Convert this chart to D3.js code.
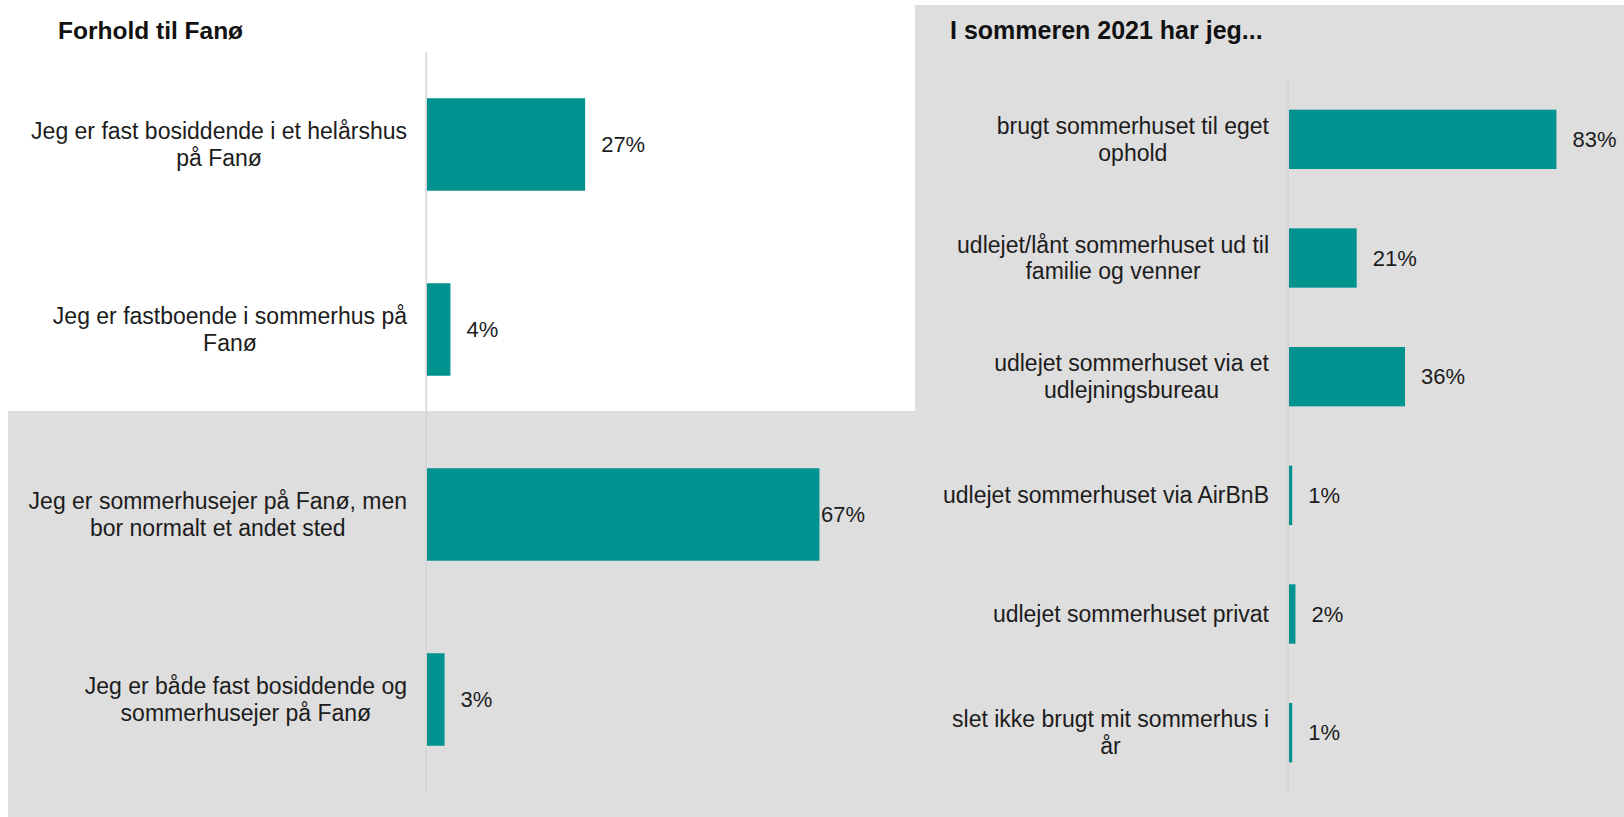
<!DOCTYPE html>
<html>
<head>
<meta charset="utf-8">
<script src="https://cdn.jsdelivr.net/npm/d3@7/dist/d3.min.js"></script>
<style>
  html, body { margin: 0; padding: 0; background: #ffffff; }
  svg { display: block; }
  text { font-family: "Liberation Sans", Arial, sans-serif; fill: #1c1c1c; }
</style>
</head>
<body>
<svg id="chart" width="1624" height="817"></svg>
<script>
// Forhold til Fanø
const leftTitle = "Forhold til Fanø";
const leftCategories = [
  "Jeg er fast bosiddende i et helårshus\npå Fanø",
  "Jeg er fastboende i sommerhus på\nFanø",
  "Jeg er sommerhusejer på Fanø, men\nbor normalt et andet sted",
  "Jeg er både fast bosiddende og\nsommerhusejer på Fanø"
];
const leftValues = [0.27, 0.04, 0.67, 0.03];

// I sommeren 2021 har jeg...
const rightTitle = "I sommeren 2021 har jeg...";
const rightCategories = [
  "brugt sommerhuset til eget\nophold",
  "udlejet/lånt sommerhuset ud til\nfamilie og venner",
  "udlejet sommerhuset via et\nudlejningsbureau",
  "udlejet sommerhuset via AirBnB",
  "udlejet sommerhuset privat",
  "slet ikke brugt mit sommerhus i\når"
];
const rightValues = [0.83, 0.21, 0.36, 0.01, 0.02, 0.01];

const BAR = "#00938f";
const PANEL = "#dedede";
const AXIS = "#d4d4d4";
const pct = d3.format(".0%");

const svg = d3.select("#chart");

// background panels
svg.append("rect").attr("x", 8).attr("y", 411).attr("width", 907).attr("height", 406).attr("fill", PANEL);
svg.append("rect").attr("x", 915).attr("y", 5).attr("width", 709).attr("height", 812).attr("fill", PANEL);

function barChart(opt) {
  const g = svg.append("g");
  const x = d3.scaleLinear().domain([0, opt.xMax]).range([opt.x0, opt.x1]);
  const y = d3.scaleBand().domain(opt.categories).range([opt.y0, opt.y1])
    .paddingInner(0.5).paddingOuter(0.25);

  // title
  g.append("text")
    .attr("x", opt.titleX).attr("y", 39)
    .style("font-weight", "bold").style("font-size", opt.titleSize).style("fill", "#111")
    .text(opt.title);

  // vertical category axis
  const axis = g.append("g")
    .attr("transform", `translate(${x(0) - 0.75},0)`)
    .call(d3.axisLeft(y).tickSize(0).tickFormat(""));
  axis.select(".domain").attr("stroke", AXIS).attr("stroke-width", 1.5)
    .attr("d", `M0,${opt.y0}V${opt.y1}`);

  const data = opt.categories.map((c, i) => ({ c, v: opt.values[i] }));

  g.selectAll("rect.bar").data(data).join("rect")
    .attr("class", "bar")
    .attr("x", x(0))
    .attr("y", d => y(d.c))
    .attr("width", d => x(d.v) - x(0))
    .attr("height", y.bandwidth())
    .attr("fill", BAR);

  // wrapped category labels: block right-aligned to the axis, lines centred in the block
  const lineH = 26.5;
  g.selectAll("g.cat").data(data).join("g").attr("class", "cat").each(function (d) {
    const lines = d.c.split("\n");
    const t = d3.select(this).append("text")
      .style("font-size", "23px").attr("text-anchor", "middle");
    const spans = lines.map(ln => t.append("tspan").text(ln));
    const widths = spans.map(s => s.node().getComputedTextLength());
    const blockW = d3.max(widths);
    const cx = x(0) - 20 - blockW / 2;
    const cy = y(d.c) + y.bandwidth() / 2;
    spans.forEach((s, i) => {
      s.attr("x", cx).attr("y", cy + (i - (lines.length - 1) / 2) * lineH)
        .attr("dominant-baseline", "central");
    });
  });

  // value labels, kept inside the plot area
  g.selectAll("text.val").data(data).join("text")
    .attr("class", "val")
    .style("font-size", "22px")
    .attr("dominant-baseline", "central")
    .attr("y", d => y(d.c) + y.bandwidth() / 2)
    .text(d => pct(d.v))
    .attr("x", function (d) {
      const w = this.getComputedTextLength();
      return Math.min(x(d.v) + 16, opt.plotRight - w);
    });
}

barChart({
  title: leftTitle, titleX: 58, titleSize: "24.5px", categories: leftCategories, values: leftValues,
  xMax: 0.7, x0: 427, x1: 837, y0: 52, y1: 792, plotRight: 865
});

barChart({
  title: rightTitle, titleX: 950, titleSize: "25px", categories: rightCategories, values: rightValues,
  xMax: 0.9, x0: 1289, x1: 1579, y0: 80, y1: 792, plotRight: 1624
});
</script>
</body>
</html>
